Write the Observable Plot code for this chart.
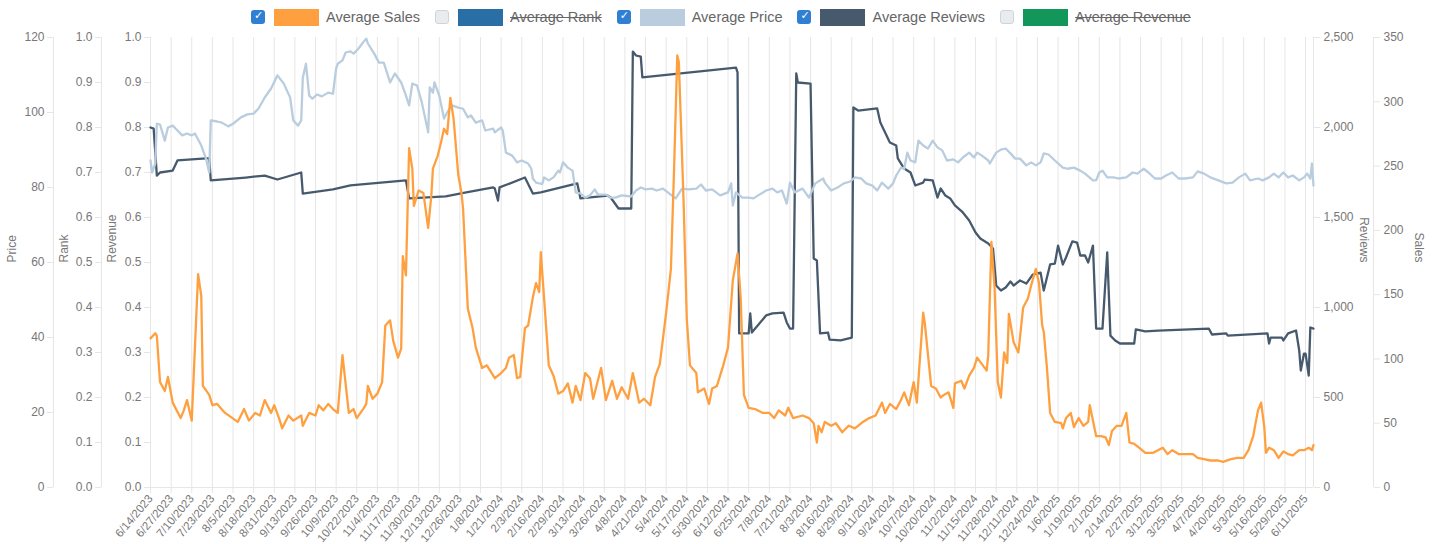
<!DOCTYPE html>
<html>
<head>
<meta charset="utf-8">
<script src="https://cdn.jsdelivr.net/npm/d3@7"></script>
<script src="https://cdn.jsdelivr.net/npm/@observablehq/plot@0.6"></script>
<style>
  html, body { margin: 0; padding: 0; background: #fff; }
  body { width: 1434px; height: 544px; overflow: hidden; font-family: "Liberation Sans", Arial, sans-serif; }
  #legend { height: 26px; padding-top: 4px; padding-left: 251px; display: flex; align-items: center; font-size: 14.5px; color: #666; }
  .item { display: flex; align-items: center; margin-right: 15px; }
  .cb { width: 14px; height: 14px; border-radius: 3px; box-sizing: border-box; margin-right: 9px; position: relative; }
  .cb.on { background: #2f7fd3; }
  .cb.on::after { content: "✓"; position: absolute; left: 3px; top: -1px; color: #fff; font-size: 11px; font-family: "DejaVu Sans", sans-serif; }
  .cb.off { background: #e9ecef; border: 1px solid #d0d4d9; }
  .sw { width: 45px; height: 17px; margin-right: 7px; }
  .off-label { text-decoration: line-through; }
</style>
</head>
<body>
<div id="legend"></div>
<div id="chart"></div>
<script>
// ---------- DATA ----------
const startLabel = "6/14/2023";
const endLabel = "6/16/2025";
const xTickLabels = ["6/14/2023","6/27/2023","7/10/2023","7/23/2023","8/5/2023","8/18/2023","8/31/2023","9/13/2023","9/26/2023","10/9/2023","10/22/2023","11/4/2023","11/17/2023","11/30/2023","12/13/2023","12/26/2023",
"1/8/2024","1/21/2024","2/3/2024","2/16/2024","2/29/2024","3/13/2024","3/26/2024","4/8/2024","4/21/2024","5/4/2024","5/17/2024","5/30/2024","6/12/2024","6/25/2024","7/8/2024","7/21/2024","8/3/2024","8/16/2024","8/29/2024","9/11/2024","9/24/2024","10/7/2024","10/20/2024","11/2/2024","11/15/2024","11/28/2024","12/11/2024","12/24/2024",
"1/6/2025","1/19/2025","2/1/2025","2/14/2025","2/27/2025","3/12/2025","3/25/2025","4/7/2025","4/20/2025","5/3/2025","5/16/2025","5/29/2025","6/11/2025"];

const unitTicks = [0,0.1,0.2,0.3,0.4,0.5,0.6,0.7,0.8,0.9,1.0];
const priceTicks = [0,20,40,60,80,100,120];
const reviewTicks = [0,500,1000,1500,2000,2500];
const salesTicks = [0,50,100,150,200,250,300,350];
const priceMax = 120, reviewsMax = 2500, salesMax = 350;

// [day offset from 6/14/2023, value]
const sales = [[0,116],[3,120],[4,118],[6,82],[9,75],[11,86],[14,66],[19,54],[21,60],[23,68],[26,52],[30,166],[32,149],[33,79],[37,72],[39,64],[42,65],[47,58],[55,51],[59,61],[62,52],[66,58],[69,56],[72,68],[76,58],[78,64],[81,54],[83,46],[87,56],[90,52],[95,56],[96,48],[100,58],[104,56],[106,64],[109,60],[112,65],[115,61],[118,58],[121,103],[125,58],[128,61],[130,54],[134,61],[136,65],[137,79],[140,69],[143,73],[146,82],[148,126],[151,130],[153,114],[156,101],[158,108],[159,180],[161,165],[163,264],[165,248],[166,219],[169,231],[172,229],[175,202],[177,227],[178,248],[181,258],[183,268],[185,279],[187,275],[189,303],[191,287],[194,243],[196,229],[197,217],[200,139],[203,124],[205,109],[209,93],[212,95],[217,85],[221,89],[224,93],[226,101],[229,103],[231,85],[233,86],[236,124],[238,126],[241,148],[243,159],[245,152],[246,183],[249,131],[251,95],[254,87],[257,73],[260,75],[263,81],[266,66],[268,79],[271,68],[274,89],[277,85],[279,69],[284,93],[287,68],[291,83],[294,69],[297,78],[301,69],[304,89],[308,66],[311,69],[315,64],[318,86],[321,96],[325,136],[328,170],[330,248],[332,336],[333,331],[336,222],[338,131],[340,95],[344,89],[345,74],[349,77],[352,65],[354,77],[357,79],[361,95],[364,109],[367,161],[370,182],[372,147],[374,72],[377,62],[381,61],[386,58],[390,58],[393,54],[396,60],[400,56],[402,62],[405,54],[411,56],[415,54],[418,50],[420,35],[421,48],[423,43],[425,51],[429,48],[432,50],[436,43],[440,48],[444,46],[449,51],[453,54],[457,56],[461,66],[463,58],[466,65],[470,61],[473,68],[475,74],[478,64],[481,82],[483,66],[487,136],[488,128],[492,79],[495,77],[498,70],[500,72],[503,74],[506,62],[507,81],[511,83],[513,77],[516,87],[519,93],[521,101],[524,96],[527,91],[528,103],[530,191],[532,155],[534,82],[536,70],[538,105],[540,97],[541,135],[544,113],[547,105],[550,140],[553,147],[555,157],[558,170],[560,159],[562,126],[563,121],[565,93],[567,58],[570,51],[574,50],[575,46],[577,54],[580,58],[582,47],[585,54],[588,48],[591,51],[592,64],[596,40],[599,40],[602,39],[604,33],[606,44],[609,48],[612,48],[615,58],[617,35],[620,34],[623,31],[627,27],[632,27],[635,29],[638,31],[641,26],[644,29],[648,26],[652,26],[657,26],[660,23],[664,22],[668,21],[673,21],[676,20],[681,22],[685,23],[689,23],[692,29],[695,40],[698,60],[700,66],[702,47],[703,27],[705,31],[708,29],[711,23],[714,28],[717,26],[720,25],[724,29],[727,29],[730,31],[732,29],[733,33]];

const reviews = [[0,2000],[2,1994],[4,1733],[6,1750],[14,1761],[17,1817],[35,1828],[37,1828],[38,1706],[60,1722],[72,1733],[80,1711],[95,1750],[96,1633],[115,1656],[126,1678],[161,1706],[163,1606],[186,1617],[199,1639],[216,1667],[217,1661],[219,1594],[220,1667],[236,1722],[241,1633],[246,1639],[269,1689],[271,1606],[288,1622],[290,1611],[295,1550],[303,1550],[304,2422],[306,2400],[309,2394],[310,2278],[369,2333],[370,2306],[371,856],[377,856],[378,967],[379,861],[388,956],[392,967],[399,972],[401,917],[403,883],[405,883],[407,2300],[408,2250],[416,2244],[418,1272],[420,1261],[422,856],[427,861],[428,822],[435,817],[442,833],[443,2111],[446,2094],[458,2106],[460,2028],[463,1972],[466,1917],[470,1900],[471,1828],[475,1772],[479,1750],[482,1678],[487,1694],[488,1711],[493,1706],[496,1611],[498,1661],[501,1622],[504,1606],[507,1567],[512,1528],[516,1483],[520,1417],[523,1383],[528,1356],[531,1328],[533,1122],[536,1094],[539,1111],[542,1144],[544,1122],[548,1150],[552,1133],[556,1183],[561,1194],[563,1094],[567,1239],[570,1244],[572,1344],[575,1239],[577,1278],[581,1367],[584,1361],[586,1289],[589,1289],[591,1250],[594,1344],[596,883],[600,883],[603,1306],[605,844],[608,817],[611,800],[620,800],[621,878],[627,867],[635,872],[667,883],[669,850],[678,856],[679,844],[704,856],[705,800],[706,833],[713,833],[714,817],[717,856],[722,872],[724,761],[725,650],[727,744],[728,744],[730,622],[731,889],[733,883]];

const price = [[0,87.2],[1,84],[3,86.4],[4,97],[6,96.8],[9,92.5],[11,96],[14,96.5],[17,95.2],[20,93.9],[23,94.4],[26,93.9],[28,94.4],[32,91.2],[35,87.7],[37,84],[38,97.9],[42,97.6],[45,97.3],[49,96.3],[52,97],[57,98.7],[61,99.5],[65,99.7],[68,101],[72,104],[76,106.4],[80,109.9],[84,107.7],[88,104],[90,97.9],[93,96.5],[95,97.9],[96,109.3],[98,113],[100,104.5],[102,103.7],[105,104.8],[108,104.3],[112,105.3],[115,105],[117,111.7],[118,113],[121,113.9],[123,116],[126,116.3],[128,115.7],[131,117],[134,118.7],[136,119.7],[137,118.4],[141,115.7],[144,113.3],[147,113.3],[149,110.7],[151,108],[154,110.4],[158,108],[161,104.5],[163,101.9],[165,107.7],[168,107.2],[171,102.7],[175,94.7],[176,106.7],[178,105.3],[179,108],[182,104.5],[185,98.4],[187,100],[190,101.9],[194,101.3],[197,101],[200,98.7],[202,99.2],[205,97.3],[209,97.9],[211,95.2],[216,95.7],[217,94.7],[221,96],[222,95.2],[224,89.3],[228,88.5],[231,86.7],[234,87.2],[238,86.4],[240,85],[241,82.4],[243,81.3],[246,81],[247,81],[248,82.7],[251,81.9],[254,82.7],[257,84.5],[258,84],[260,86.7],[263,85.3],[266,84.5],[268,78.7],[271,78.4],[274,77.3],[277,77.9],[280,79.5],[282,78.1],[287,78.1],[290,77.3],[293,77.3],[297,77.9],[303,77.6],[306,79.2],[309,80],[312,79.5],[316,79.7],[319,79.2],[323,79.7],[326,78.7],[331,77.1],[335,79.7],[339,79.5],[344,79.7],[347,80.8],[350,79.2],[354,79.5],[359,77.9],[364,78.7],[366,81.1],[367,75.2],[369,78.7],[373,77.3],[377,77.3],[380,77.1],[383,77.9],[388,79.2],[392,79.7],[395,78.7],[398,79.2],[401,75.7],[403,81.3],[406,78.7],[411,79.7],[415,77.3],[419,81.1],[424,82.4],[425,81.3],[429,79.2],[433,80],[437,81.1],[441,81.6],[444,82.7],[448,82.4],[451,81.1],[455,80.5],[458,79.2],[461,81.3],[465,79.7],[468,81.1],[470,83.2],[473,85.3],[475,85],[477,89.3],[479,87.2],[482,86.7],[484,92.5],[487,91.2],[490,90.4],[493,92.5],[496,90.7],[499,89.9],[502,87.2],[506,87.5],[509,86.7],[512,88],[516,89.3],[519,88],[521,89.3],[524,88.5],[528,87.2],[529,86.4],[533,89.3],[536,90.1],[539,90.4],[542,89.1],[545,87.7],[548,87.7],[552,85.9],[555,86.7],[558,85.9],[561,86.7],[563,89.1],[566,88.8],[570,87.2],[575,85.3],[578,85],[582,85.3],[586,84.5],[589,83.7],[594,81.9],[596,81.9],[598,84],[600,84.5],[603,82.7],[607,82.7],[610,82.4],[615,82.7],[619,84],[622,83.7],[626,85],[629,84],[633,82.4],[637,82.4],[640,83.2],[644,84],[648,82.4],[652,82.4],[657,82.7],[660,84.3],[664,83.7],[668,82.7],[673,81.9],[678,81.1],[682,81.3],[686,82.7],[690,83.7],[693,81.9],[698,82.4],[701,81.9],[705,82.7],[708,83.7],[711,82.7],[714,84],[717,82.7],[720,83.2],[724,81.9],[727,82.7],[729,83.7],[731,82.4],[732,86.4],[733,80.5]];

const legendItems = [
  {name: "Average Sales", color: "#ffa040", on: true},
  {name: "Average Rank", color: "#2a6ea6", on: false},
  {name: "Average Price", color: "#b9cddf", on: true},
  {name: "Average Reviews", color: "#475a6d", on: true},
  {name: "Average Revenue", color: "#12965a", on: false}
];

// ---------- LEGEND ----------
const legend = document.getElementById("legend");
for (const it of legendItems) {
  const item = document.createElement("span");
  item.className = "item";
  item.innerHTML = `<span class="cb ${it.on ? "on" : "off"}"></span><span class="sw" style="background:${it.color}"></span><span class="${it.on ? "" : "off-label"}">${it.name}</span>`;
  legend.appendChild(item);
}

// ---------- CHART ----------
const parse = d3.utcParse("%m/%d/%Y");
const start = parse(startLabel);
const end = parse(endLabel);
const xTicks = xTickLabels.map(parse);
const fmt = d3.utcFormat("%-m/%-d/%Y");
const dayToDate = d => d3.utcDay.offset(start, d);

const grid = "#e6e6e6";
const txt = "#777";

const chart = Plot.plot({
  width: 1434,
  height: 514,
  marginTop: 7,
  marginBottom: 57,
  marginLeft: 150,
  marginRight: 121,
  style: {fontFamily: "'Liberation Sans', Arial, sans-serif", fontSize: "12px", background: "white", overflow: "visible"},
  x: {type: "utc", domain: [start, end], axis: null},
  y: {domain: [0, 1], axis: null},
  marks: [
    Plot.gridX(xTicks, {stroke: grid, strokeOpacity: 1}),
    Plot.ruleY([0], {stroke: grid}),
    Plot.ruleX([start], {stroke: grid}),
    Plot.ruleX([start], {stroke: grid, dx: -49}),
    Plot.ruleX([start], {stroke: grid, dx: -97}),
    Plot.ruleX([end], {stroke: grid}),
    Plot.ruleX([end], {stroke: grid, dx: 60}),
    Plot.axisX(xTicks, {anchor: "bottom", tickSize: 6, tickPadding: 3, stroke: grid, fill: txt, tickFormat: fmt, tickRotate: -50, fontSize: 11.5, label: null}),
    // left axes: Revenue, Rank, Price
    Plot.axisY(unitTicks, {anchor: "left", tickSize: 6, tickPadding: 3, stroke: grid, fill: txt, tickFormat: d3.format(".1f"), label: null}),
    Plot.axisY(unitTicks, {anchor: "left", tickSize: 6, tickPadding: 3, stroke: grid, fill: txt, tickFormat: d3.format(".1f"), label: null, dx: -49}),
    Plot.axisY(priceTicks.map(v => v / priceMax), {anchor: "left", tickSize: 6, tickPadding: 3, stroke: grid, fill: txt, tickFormat: d => d3.format(",")(Math.round(d * priceMax)), label: null, dx: -97}),
    // right axes: Reviews, Sales
    Plot.axisY(reviewTicks.map(v => v / reviewsMax), {anchor: "right", tickSize: 6, tickPadding: 4, stroke: grid, fill: txt, tickFormat: d => d3.format(",")(Math.round(d * reviewsMax)), label: null}),
    Plot.axisY(salesTicks.map(v => v / salesMax), {anchor: "right", tickSize: 6, tickPadding: 4, stroke: grid, fill: txt, tickFormat: d => d3.format(",")(Math.round(d * salesMax)), label: null, dx: 60}),
    // axis titles
    Plot.text(["Price"], {text: d => d, frameAnchor: "left", dx: -138, rotate: -90, fill: txt, fontSize: 12}),
    Plot.text(["Rank"], {text: d => d, frameAnchor: "left", dx: -86, rotate: -90, fill: txt, fontSize: 12}),
    Plot.text(["Revenue"], {text: d => d, frameAnchor: "left", dx: -38, rotate: -90, fill: txt, fontSize: 12}),
    Plot.text(["Reviews"], {text: d => d, frameAnchor: "right", dx: 50, rotate: 90, fill: txt, fontSize: 12}),
    Plot.text(["Sales"], {text: d => d, frameAnchor: "right", dx: 105, rotate: 90, fill: txt, fontSize: 12}),
    // series
    Plot.line(reviews, {x: d => dayToDate(d[0]), y: d => d[1] / reviewsMax, stroke: "#475a6d", strokeWidth: 2.3}),
    Plot.line(price, {x: d => dayToDate(d[0]), y: d => d[1] / priceMax, stroke: "#b9cddf", strokeWidth: 2.3}),
    Plot.line(sales, {x: d => dayToDate(d[0]), y: d => d[1] / salesMax, stroke: "#ffa040", strokeWidth: 2.3})
  ]
});
document.getElementById("chart").appendChild(chart);
</script>
</body>
</html>
